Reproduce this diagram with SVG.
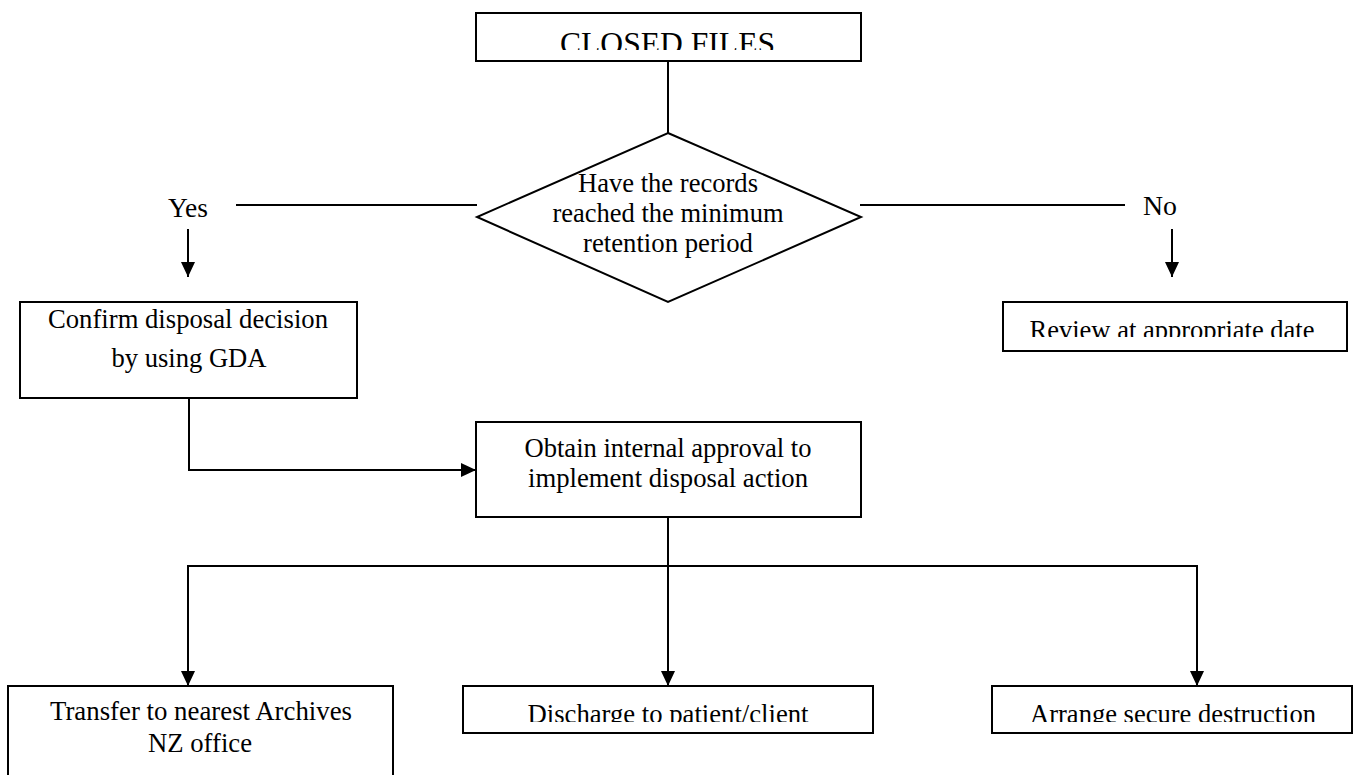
<svg xmlns="http://www.w3.org/2000/svg" width="1353" height="775" viewBox="0 0 1353 775">
<style>
.box{fill:#fff;stroke:#000;stroke-width:2}
.ln{fill:none;stroke:#000;stroke-width:2}
.arr{fill:none;stroke:#000;stroke-width:2;marker-end:url(#ah)}
text{font-family:"Liberation Serif","Times New Roman",Times,serif;font-size:27px;fill:#000;text-anchor:middle}
.big{font-size:31px}
</style>
<defs>
<marker id="ah" markerUnits="userSpaceOnUse" markerWidth="16" markerHeight="14" refX="15" refY="7" orient="auto">
<path d="M0,0 L15,7 L0,14 z" fill="#000"/>
</marker>
<clipPath id="c1"><rect x="470" y="0" width="400" height="50"/></clipPath>
<clipPath id="c2"><rect x="1000" y="300" width="350" height="37"/></clipPath>
<clipPath id="c3"><rect x="460" y="680" width="420" height="42"/></clipPath>
<clipPath id="c4"><rect x="990" y="680" width="363" height="42"/></clipPath>
</defs>
<rect width="1353" height="775" fill="#fff"/>
<g id="connectors">
<line class="ln" x1="668" y1="61" x2="668" y2="133"/>
<line class="ln" x1="236" y1="205" x2="477" y2="205"/>
<line class="ln" x1="860" y1="205" x2="1125" y2="205"/>
<line class="arr" x1="188" y1="229" x2="188" y2="277"/>
<line class="arr" x1="1172" y1="229" x2="1172" y2="277"/>
<polyline class="arr" points="189,398 189,470 476,470"/>
<line class="arr" x1="668" y1="517" x2="668" y2="686"/>
<polyline class="arr" points="668,566 188,566 188,686"/>
<polyline class="arr" points="668,566 1197,566 1197,686"/>
</g>
<g id="closed-files">
<rect class="box" x="476" y="13" width="385" height="48"/>
<text class="big" x="667.5" y="54" textLength="215" lengthAdjust="spacingAndGlyphs" clip-path="url(#c1)">CLOSED FILES</text>
</g>
<g id="decision">
<polygon class="box" points="668,133 861,217 668,302 477,217"/>
<text x="668" y="192" textLength="180" lengthAdjust="spacingAndGlyphs">Have the records</text>
<text x="668" y="222" textLength="231" lengthAdjust="spacingAndGlyphs">reached the minimum</text>
<text x="668" y="252" textLength="170" lengthAdjust="spacingAndGlyphs">retention period</text>
</g>
<g id="label-yes"><text x="188" y="217" textLength="40" lengthAdjust="spacingAndGlyphs">Yes</text></g>
<g id="label-no"><text x="1160" y="215" textLength="34" lengthAdjust="spacingAndGlyphs">No</text></g>
<g id="confirm">
<rect class="box" x="20" y="302" width="337" height="96"/>
<text x="188" y="328" textLength="280" lengthAdjust="spacingAndGlyphs">Confirm disposal decision</text>
<text x="189" y="367" textLength="155" lengthAdjust="spacingAndGlyphs">by using GDA</text>
</g>
<g id="review">
<rect class="box" x="1003" y="302" width="344" height="49"/>
<text x="1172" y="339" textLength="285" lengthAdjust="spacingAndGlyphs" clip-path="url(#c2)">Review at appropriate date</text>
</g>
<g id="obtain">
<rect class="box" x="476" y="422" width="385" height="95"/>
<text x="668" y="457" textLength="287" lengthAdjust="spacingAndGlyphs">Obtain internal approval to</text>
<text x="668" y="487" textLength="280" lengthAdjust="spacingAndGlyphs">implement disposal action</text>
</g>
<g id="transfer">
<rect class="box" x="8" y="686" width="385" height="110"/>
<text x="201" y="720" textLength="302" lengthAdjust="spacingAndGlyphs">Transfer to nearest Archives</text>
<text x="200" y="752" textLength="104" lengthAdjust="spacingAndGlyphs">NZ office</text>
</g>
<g id="discharge">
<rect class="box" x="463" y="686" width="410" height="47"/>
<text x="668" y="723" textLength="281" lengthAdjust="spacingAndGlyphs" clip-path="url(#c3)">Discharge to patient/client</text>
</g>
<g id="arrange">
<rect class="box" x="992" y="686" width="360" height="47"/>
<text x="1173" y="723" textLength="286" lengthAdjust="spacingAndGlyphs" clip-path="url(#c4)">Arrange secure destruction</text>
</g>
</svg>
